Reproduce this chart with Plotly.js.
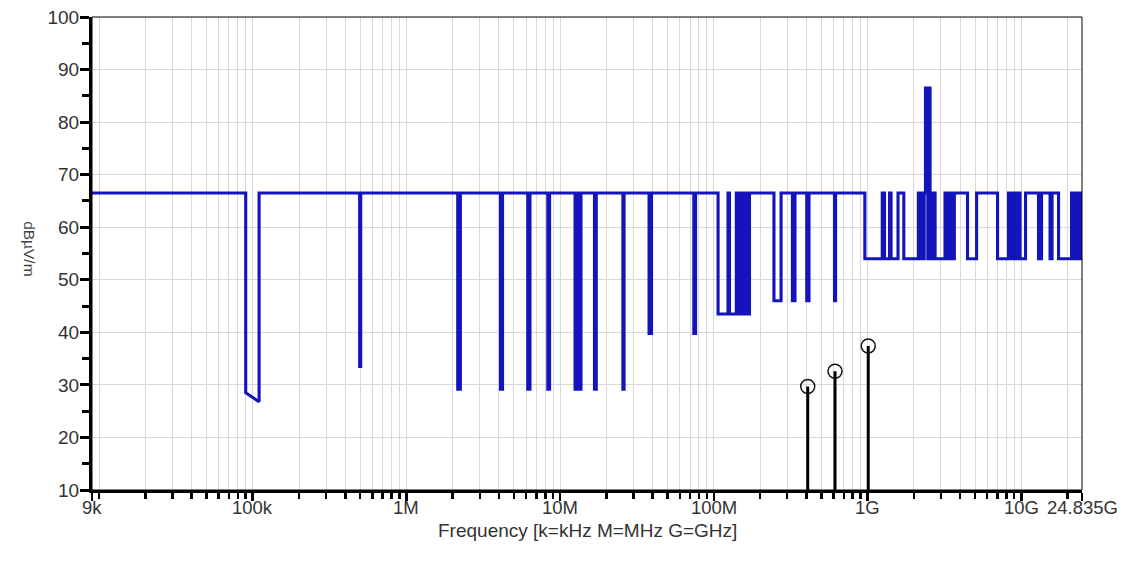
<!DOCTYPE html>
<html>
<head>
<meta charset="utf-8">
<script src="https://cdn.plot.ly/plotly-3.0.1.min.js"></script>
<style>
  html, body { margin: 0; padding: 0; background: #ffffff; }
  #chart { width: 1127px; height: 567px; }
</style>
</head>
<body>
<div id="chart"></div>
<script>
// ---- Limit line (step function): segment edges in Hz and the level of each segment (dBµV/m)
// A level given as [start, end] is a sloped segment.
const edgeFreq = [
  9e3, 90e3, 110e3, 496e3, 504e3,
  2.156e6, 2.243e6, 4.09e6, 4.218e6, 6.156e6, 6.362e6, 8.31e6, 8.536e6,
  12.5e6, 13.0e6, 13.1e6, 13.66e6, 16.72e6, 17.18e6, 25.6e6, 26.05e6,
  37.88e6, 39.3e6, 74.05e6, 76.03e6,
  106.5e6, 123.6e6, 126.4e6,
  140e6, 142.5e6, 145e6, 147.5e6, 150e6, 152.5e6, 155e6, 157.5e6, 160e6, 162.5e6, 165e6, 167.5e6, 170.5e6,
  246e6, 273.7e6, 324.4e6, 337.2e6, 402e6, 415.9e6, 609.2e6, 619.4e6,
  960e6, 1.246e9, 1.289e9, 1.39e9, 1.422e9, 1.578e9, 1.721e9,
  2.14e9, 2.19e9, 2.24e9, 2.29e9, 2.335e9, 2.38e9, 2.465e9, 2.475e9, 2.55e9, 2.6e9, 2.65e9, 2.7e9, 2.75e9,
  3.19e9, 3.25e9, 3.31e9, 3.37e9, 3.43e9, 3.49e9, 3.55e9, 3.61e9, 3.67e9,
  4.47e9, 5.12e9, 7.01e9,
  8.26e9, 8.42e9, 8.58e9, 8.74e9, 8.9e9, 9.06e9, 9.22e9, 9.38e9, 9.54e9, 9.82e9,
  10.66e9, 12.95e9, 13.55e9, 15.39e9, 15.86e9, 17.48e9,
  21.24e9, 21.6e9, 21.96e9, 22.32e9, 22.68e9, 23.04e9, 23.4e9, 23.76e9, 24.12e9, 24.48e9,
  24.835e9, 24.835e9
];
const segLevel = [
  66.5, [28.5, 26.8], 66.5, 33.5,
  66.5, 29.2, 66.5, 29.2, 66.5, 29.2, 66.5, 29.2,
  66.5, 29.2, 66.5, 29.2, 66.5, 29.2, 66.5, 29.2,
  66.5, 39.8, 66.5, 39.8,
  66.5, 43.5, 66.5,
  43.5, 66.5, 43.5, 66.5, 43.5, 66.5, 43.5, 66.5, 43.5, 66.5, 43.5, 66.5, 43.5,
  66.5, 46, 66.5, 46, 66.5, 46, 66.5, 46,
  66.5, 54, 66.5, 54, 66.5, 54, 66.5,
  54, 66.5, 54, 66.5, 54, 66.5, 86.5, 54, 86.5, 54, 66.5, 54, 66.5,
  54, 66.5, 54, 66.5, 54, 66.5, 54, 66.5, 54,
  66.5, 54, 66.5,
  54, 66.5, 54, 66.5, 54, 66.5, 54, 66.5, 54, 66.5,
  54, 66.5, 54, 66.5, 54, 66.5,
  54, 66.5, 54, 66.5, 54, 66.5, 54, 66.5, 54, 66.5,
  54, 66.5
];

// ---- Measured peaks (stems with open circles)
const peakFreq  = [408e6, 614e6, 1.01e9];
const peakLevel = [29.7, 32.6, 37.4];

// ---- Axes
const xTickVals = [9e3, 1e5, 1e6, 1e7, 1e8, 1e9, 1e10, 24.835e9];
const xTickText = ['9k', '100k', '1M', '10M', '100M', '1G', '10G', '24.835G'];
const yTickVals = [10, 20, 30, 40, 50, 60, 70, 80, 90, 100];
const xTitle = 'Frequency [k=kHz M=MHz G=GHz]';
const yTitle = 'dBµV/m';

// build the step-line vertices from the segments
const lx = [], ly = [];
for (let i = 0; i < segLevel.length; i++) {
  const lv = segLevel[i];
  const a = Array.isArray(lv) ? lv[0] : lv;
  const b = Array.isArray(lv) ? lv[1] : lv;
  lx.push(edgeFreq[i], edgeFreq[i + 1]);
  ly.push(a, b);
}

// stems
const sx = [], sy = [];
for (let i = 0; i < peakFreq.length; i++) {
  sx.push(peakFreq[i], peakFreq[i], null);
  sy.push(10, peakLevel[i], null);
}

// minor tick positions (every digit of each decade), excluding the labelled ticks
const minorVals = [];
for (let e = 4; e <= 10; e++) {
  for (let d = 1; d <= 9; d++) {
    const v = d * Math.pow(10, e);
    if (v > 9e3 && v < 24.835e9 && (d !== 1 || e === 4)) minorVals.push(v);
  }
}

const fam = 'Liberation Sans, Arial, sans-serif';
const txtColor = '#333333';

const traces = [
  {
    x: lx, y: ly, type: 'scatter', mode: 'lines',
    line: { color: '#1414bc', width: 3.1, shape: 'linear' },
    hoverinfo: 'skip', showlegend: false
  },
  {
    x: sx, y: sy, type: 'scatter', mode: 'lines',
    line: { color: '#000000', width: 3 },
    hoverinfo: 'skip', showlegend: false
  },
  {
    x: peakFreq, y: peakLevel, type: 'scatter', mode: 'markers',
    marker: { symbol: 'circle-open', size: 14, color: '#111111', line: { width: 1.5, color: '#111111' } },
    hoverinfo: 'skip', showlegend: false, cliponaxis: false
  }
];

// x tick labels placed just under the tick marks
const annotations = xTickVals.map((v, i) => ({
  text: xTickText[i], xref: 'x', yref: 'paper', x: Math.log10(v), y: 0,
  yshift: -17, xanchor: 'center', yanchor: 'middle', showarrow: false,
  font: { family: fam, size: 18.5, color: txtColor }
}));
annotations.push(
  { text: xTitle, xref: 'paper', yref: 'paper', x: 0.5, y: 0, yshift: -40, xanchor: 'center', yanchor: 'middle',
    showarrow: false, font: { family: fam, size: 19, color: txtColor } },
  { text: yTitle, xref: 'paper', yref: 'paper', x: -0.063, y: 0.51, xanchor: 'center', yanchor: 'middle',
    textangle: 90, showarrow: false, font: { family: fam, size: 15.5, color: '#444444' } }
);

const layout = {
  width: 1127, height: 567,
  margin: { l: 92, r: 45, t: 17, b: 77 },
  paper_bgcolor: '#ffffff', plot_bgcolor: '#ffffff',
  font: { family: fam, size: 18.5, color: txtColor },
  showlegend: false,
  xaxis: {
    type: 'log',
    range: [Math.log10(9e3), Math.log10(24.835e9)],
    tickmode: 'array', tickvals: xTickVals, ticktext: xTickText,
    showticklabels: false,
    ticks: 'outside', ticklen: 8, tickwidth: 2.5, tickcolor: '#000000',
    showline: true, linewidth: 3, linecolor: '#000000',
    showgrid: true, gridcolor: '#d8d8d8', gridwidth: 1,
    zeroline: false,
    minor: {
      tickmode: 'array', tickvals: minorVals,
      ticks: 'outside', ticklen: 6, tickwidth: 2.5, tickcolor: '#000000',
      showgrid: true, gridcolor: '#d8d8d8', gridwidth: 1
    },
    fixedrange: true
  },
  yaxis: {
    range: [10, 100],
    tickmode: 'array', tickvals: yTickVals,
    ticks: 'outside', ticklen: 9, tickwidth: 3, tickcolor: '#000000',
    ticklabelstandoff: -3,
    showline: true, linewidth: 3, linecolor: '#000000',
    showgrid: true, gridcolor: '#d8d8d8', gridwidth: 1,
    zeroline: false,
    tickfont: { family: fam, size: 19, color: txtColor },
    minor: { dtick: 5, ticks: 'outside', ticklen: 7, tickwidth: 3, tickcolor: '#000000', showgrid: false },
    fixedrange: true
  },
  shapes: [
    { type: 'rect', xref: 'paper', yref: 'paper', x0: 0, x1: 1, y0: 0, y1: 1,
      line: { color: '#000000', width: 1 }, fillcolor: 'rgba(0,0,0,0)', layer: 'above' }
  ],
  annotations: annotations
};

Plotly.newPlot('chart', traces, layout, { staticPlot: true, displayModeBar: false });
</script>
</body>
</html>
